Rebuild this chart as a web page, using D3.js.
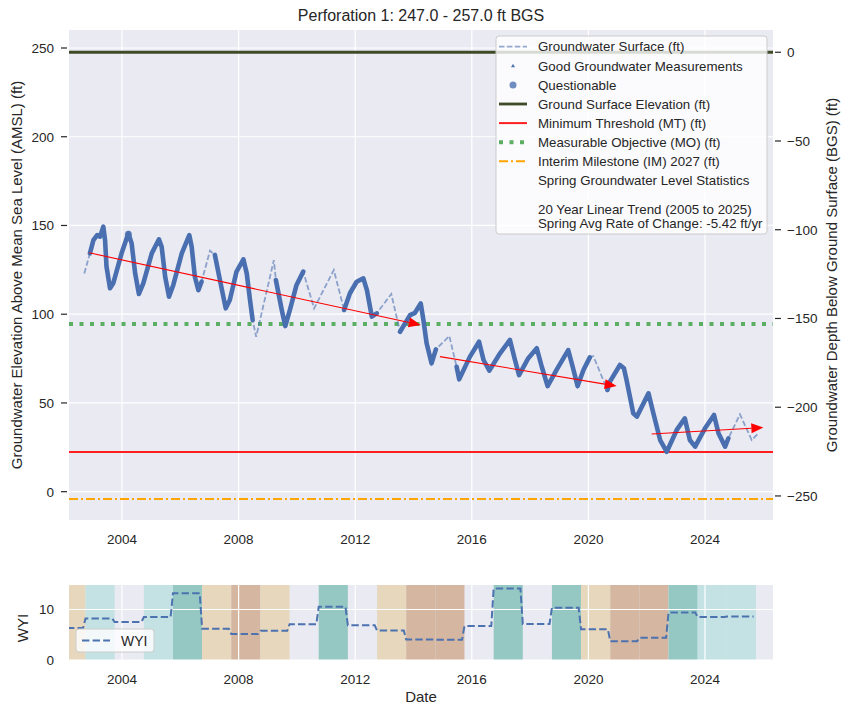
<!DOCTYPE html>
<html lang="en">
<head>
<meta charset="UTF-8">
<title>Perforation 1: 247.0 - 257.0 ft BGS</title>
<script src="https://cdn.jsdelivr.net/npm/d3@7"></script>
<style>
  * { margin: 0; padding: 0; }
  body { background: #fff; width: 843px; height: 704px; overflow: hidden; }
  svg { display: block; font-family: "Liberation Sans", Arial, sans-serif; }
  text { fill: #262626; }
</style>
</head>
<body>
<svg width="843" height="704"></svg>
<script>
// ---- data ----
const groundSurface = 247.6;      // ft AMSL
const minThreshold = 22.4;
const measObjective = 94.5;
const interimMilestone = -4.1;

// groundwater elevation turning points; measured = dense good measurements exist
const gwDates = [
  '2002-09-16','2002-11-25','2003-01-08','2003-02-24','2003-04-01','2003-05-12','2003-06-03','2003-06-21','2003-08-04','2003-09-13',
  '2003-12-27','2004-03-21','2004-05-01','2004-06-14','2004-07-31','2004-09-24','2005-01-08','2005-04-08','2005-05-12','2005-06-25',
  '2005-08-12','2005-10-05','2006-01-19','2006-04-23','2006-05-23','2006-07-02','2006-08-15','2006-09-24','2007-01-08','2007-03-10',
  '2007-05-12','2007-07-24','2007-09-13','2007-12-06','2008-03-01','2008-04-12','2008-05-23','2008-06-25','2008-08-08','2009-03-18',
  '2009-04-12','2009-06-25','2009-08-08','2009-10-05','2009-12-27','2010-03-21','2010-08-04','2011-04-08','2011-08-15','2011-10-27',
  '2012-01-19','2012-04-12','2012-05-27','2012-07-27','2012-09-27','2013-03-28','2013-07-16','2013-11-18','2014-01-19','2014-04-01',
  '2014-05-05','2014-06-14','2014-08-15','2014-10-08','2015-03-25','2015-06-25','2015-07-27','2015-12-09','2016-04-01','2016-05-27',
  '2016-08-08','2016-12-20','2017-04-23','2017-06-25','2017-08-15','2017-12-09','2018-03-25','2018-05-27','2018-08-08','2018-11-28',
  '2019-04-23','2019-06-18','2019-08-19','2019-10-31','2020-01-19','2020-03-03','2020-08-26','2020-09-27','2021-01-30','2021-03-21',
  '2021-04-23','2021-07-16','2021-08-30','2022-01-23','2022-03-25','2022-06-18','2022-09-09','2023-01-12','2023-04-23','2023-06-25',
  '2023-08-30','2024-01-01','2024-04-23','2024-06-18','2024-09-09','2024-10-20','2025-03-14','2025-08-08','2025-10-31'
];
const gwLevels = [
  123.0,134.3,141.7,144.6,143.7,149.3,141.7,126.8,114.6,117.4,
  134.3,145.6,139.9,123.0,111.4,117.4,134.3,142.2,138.0,121.1,
  109.9,116.5,134.3,144.6,138.0,121.1,113.6,118.3,135.8,133.4,
  119.3,103.3,108.0,124.0,130.9,123.0,108.0,96.7,87.3,130.5,
  119.3,102.4,93.3,102.4,116.5,124.0,103.3,124.9,102.4,111.8,
  118.3,120.2,113.6,98.6,100.5,111.4,90.1,99.5,100.8,106.1,
  96.7,83.6,72.3,80.2,87.7,70.4,63.3,76.1,84.5,74.2,
  68.2,78.0,85.5,74.2,65.7,75.2,80.8,70.4,59.5,68.6,
  79.8,70.4,59.5,68.6,75.7,76.4,57.3,62.0,71.4,69.5,
  62.9,44.2,42.3,55.4,44.2,29.1,22.5,34.8,41.3,29.1,
  25.4,35.7,43.2,32.9,25.4,30.1,43.6,29.1,32.9
];
const gwMeasured = [
  0,1,1,1,1,1,1,1,1,1,
  1,1,1,1,1,1,1,1,1,1,
  1,1,1,1,1,1,1,1,0,1,
  1,1,1,1,1,1,1,1,0,0,
  1,1,1,1,1,1,0,0,1,1,
  1,1,1,1,1,0,1,1,1,1,
  1,1,1,1,0,1,1,1,1,1,
  1,1,1,1,1,1,1,1,1,1,
  1,1,1,1,1,0,1,1,1,1,
  1,1,1,1,1,1,1,1,1,1,
  1,1,1,1,1,1,0,0,0
];

const questionableDates = ['2004-03-21'];
const questionableLevels = [145.0];

// spring trend arrows (start -> end)
const trendStartDates = ['2002-11-18', '2014-11-28', '2022-03-03'];
const trendStartLevels = [134.6, 76.1, 32.5];
const trendEndDates = ['2014-04-01', '2020-12-20', '2026-01-01'];
const trendEndLevels = [93.9, 59.5, 36.1];

// water year index and type (Oct 1 - Sep 30)
const waterYears = [2002,2003,2004,2005,2006,2007,2008,2009,2010,2011,2012,2013,
                    2014,2015,2016,2017,2018,2019,2020,2021,2022,2023,2024,2025];
const wyiValues  = [6.35,8.21,7.51,8.49,13.2,6.19,5.16,5.78,7.08,10.54,6.89,5.83,
                    4.07,4.0,6.71,14.14,7.14,10.34,6.1,3.7,4.4,9.4,8.5,8.6];
const wyTypes    = ['D','AN','BN','AN','W','D','C','D','BN','W','BN','D',
                    'C','C','BN','W','BN','W','D','C','C','W','AN','AN'];

const tickYears = [2004, 2008, 2012, 2016, 2020, 2024];
const amslTicks = [0, 50, 100, 150, 200, 250];
const bgsTicks = [0, -50, -100, -150, -200, -250];
const wyiTicks = [0, 10];

const legendLabels = [
  'Groundwater Surface (ft)',
  'Good Groundwater Measurements',
  'Questionable',
  'Ground Surface Elevation (ft)',
  'Minimum Threshold (MT) (ft)',
  'Measurable Objective (MO) (ft)',
  'Interim Milestone (IM) 2027 (ft)',
  'Spring Groundwater Level Statistics',
  '',
  '20 Year Linear Trend (2005 to 2025)',
  'Spring Avg Rate of Change: -5.42 ft/yr'
];

// ---- layout ----
const parse = d3.timeParse('%Y-%m-%d');
const main = { left: 69, right: 773, top: 30, bottom: 520 };
const sub = { left: 69, right: 773, top: 585, bottom: 660 };
const blue = '#4c72b0';
const bg = '#eaeaf2';
const wyColors = { D: '#e7d7bd', C: '#d5b6a1', W: '#95c8c3', AN: '#c4e2e3', BN: 'none' };

const svg = d3.select('svg');

const x = d3.scaleTime()
  .domain([parse('2002-03-08'), parse('2026-05-02')])
  .range([main.left, main.right]);
const y = d3.scaleLinear().domain([-15.95, 260.14]).range([main.bottom, main.top]);
const yR = d3.scaleLinear()
  .domain([-15.95 - groundSurface, 260.14 - groundSurface])
  .range([main.bottom, main.top]);
const yW = d3.scaleLinear().domain([0, 14.85]).range([sub.bottom, sub.top]);

const defs = svg.append('defs');
defs.append('clipPath').attr('id', 'clipMain').append('rect')
  .attr('x', main.left).attr('y', main.top)
  .attr('width', main.right - main.left).attr('height', main.bottom - main.top);
defs.append('clipPath').attr('id', 'clipSub').append('rect')
  .attr('x', sub.left).attr('y', sub.top)
  .attr('width', sub.right - sub.left).attr('height', sub.bottom - sub.top);

// ---- main panel ----
svg.append('rect').attr('x', main.left).attr('y', main.top)
  .attr('width', main.right - main.left).attr('height', main.bottom - main.top)
  .attr('fill', bg);

const gGrid = svg.append('g').attr('stroke', '#fff').attr('stroke-width', 1.2);
tickYears.forEach(t => {
  const xx = x(new Date(t, 0, 1));
  gGrid.append('line').attr('x1', xx).attr('x2', xx).attr('y1', main.top).attr('y2', main.bottom);
});
amslTicks.forEach(t => {
  gGrid.append('line').attr('x1', main.left).attr('x2', main.right).attr('y1', y(t)).attr('y2', y(t));
});

const plot = svg.append('g').attr('clip-path', 'url(#clipMain)');

function hline(v, color, width, dash) {
  plot.append('line')
    .attr('x1', main.left).attr('x2', main.right)
    .attr('y1', y(v)).attr('y2', y(v))
    .attr('stroke', color).attr('stroke-width', width)
    .attr('stroke-dasharray', dash || null);
}
hline(groundSurface, '#3f4a27', 2.8);
hline(minThreshold, '#ff1f1f', 2);
hline(measObjective, '#5cae63', 4, '4,6.5');
hline(interimMilestone, '#ffa500', 2, '9,3,2,3');

const gw = gwDates.map((d, i) => ({ date: parse(d), v: gwLevels[i], m: gwMeasured[i] === 1 }));

// dashed groundwater surface (whole record)
plot.append('path')
  .attr('d', d3.line().x(d => x(d.date)).y(d => y(d.v))(gw))
  .attr('fill', 'none').attr('stroke', blue).attr('stroke-opacity', 0.6)
  .attr('stroke-width', 1.8).attr('stroke-dasharray', '5.5,2.4');

// dense good measurements
plot.append('path')
  .attr('d', d3.line().defined(d => d.m).x(d => x(d.date)).y(d => y(d.v))(gw))
  .attr('fill', 'none').attr('stroke', '#4a6fb0')
  .attr('stroke-width', 4.6).attr('stroke-linejoin', 'round').attr('stroke-linecap', 'round');

plot.selectAll('circle.q')
  .data(questionableDates.map((d, i) => ({ date: parse(d), v: questionableLevels[i] })))
  .enter().append('circle')
  .attr('cx', d => x(d.date)).attr('cy', d => y(d.v)).attr('r', 3.5)
  .attr('fill', blue).attr('fill-opacity', 0.8);

// trend arrows
trendStartDates.forEach((sd, i) => {
  const x0 = x(parse(sd)), y0 = y(trendStartLevels[i]);
  const x1 = x(parse(trendEndDates[i])), y1 = y(trendEndLevels[i]);
  const len = Math.hypot(x1 - x0, y1 - y0);
  const ux = (x1 - x0) / len, uy = (y1 - y0) / len;
  const hl = 12, hw = 5;
  const bx = x1 - ux * hl, by = y1 - uy * hl;
  plot.append('line').attr('x1', x0).attr('y1', y0).attr('x2', bx).attr('y2', by)
    .attr('stroke', '#ff0000').attr('stroke-width', 1.1);
  plot.append('path')
    .attr('d', `M${x1},${y1}L${bx - uy * hw},${by + ux * hw}L${bx + uy * hw},${by - ux * hw}Z`)
    .attr('fill', '#ff0000');
});

// axes: left ticks + labels
const axL = svg.append('g');
amslTicks.forEach(t => {
  axL.append('line').attr('x1', 61).attr('x2', 67).attr('y1', y(t)).attr('y2', y(t))
    .attr('stroke', '#262626').attr('stroke-width', 1.2);
  axL.append('text').attr('x', 54).attr('y', y(t)).attr('dy', '0.36em')
    .attr('text-anchor', 'end').style('font-size', '13.5px').text(t);
});
const axR = svg.append('g');
bgsTicks.forEach(t => {
  axR.append('line').attr('x1', 775).attr('x2', 781).attr('y1', yR(t)).attr('y2', yR(t))
    .attr('stroke', '#262626').attr('stroke-width', 1.2);
  axR.append('text').attr('x', 787).attr('y', yR(t)).attr('dy', '0.36em')
    .style('font-size', '13.5px').text(d3.format('')(t));
});
tickYears.forEach(t => {
  svg.append('text').attr('x', x(new Date(t, 0, 1))).attr('y', 544)
    .attr('text-anchor', 'middle').style('font-size', '13.5px').text(t);
});

svg.append('text').attr('x', (main.left + main.right) / 2).attr('y', 21)
  .attr('text-anchor', 'middle').style('font-size', '16px')
  .text('Perforation 1: 247.0 - 257.0 ft BGS');
svg.append('text').attr('transform', 'translate(22,275) rotate(-90)')
  .attr('text-anchor', 'middle').style('font-size', '15px')
  .text('Groundwater Elevation Above Mean Sea Level (AMSL) (ft)');
svg.append('text').attr('transform', 'translate(837,275) rotate(-90)')
  .attr('text-anchor', 'middle').style('font-size', '15px')
  .text('Groundwater Depth Below Ground Surface (BGS) (ft)');

// legend
const lg = svg.append('g');
lg.append('rect').attr('x', 496).attr('y', 36).attr('width', 271).attr('height', 198)
  .attr('rx', 3).attr('fill', '#fff').attr('fill-opacity', 0.8)
  .attr('stroke', '#cccccc').attr('stroke-width', 1);
const rowY = i => i < 8 ? 46.7 + i * 19.1 : 180.4 + (i - 7) * 14.2;
legendLabels.forEach((lab, i) => {
  const cy = rowY(i);
  if (lab) lg.append('text').attr('x', 538).attr('y', cy).attr('dy', '0.36em')
    .style('font-size', '13.3px').text(lab);
  const seg = (color, w, dash, op) => lg.append('line')
    .attr('x1', 499).attr('x2', 527).attr('y1', cy).attr('y2', cy)
    .attr('stroke', color).attr('stroke-width', w)
    .attr('stroke-dasharray', dash || null).attr('stroke-opacity', op || 1);
  if (i === 0) seg(blue, 1.8, '5.5,2.4', 0.6);
  if (i === 1) lg.append('path').attr('d', `M513,${cy - 2}L515,${cy + 1.5}L511,${cy + 1.5}Z`).attr('fill', blue);
  if (i === 2) lg.append('circle').attr('cx', 513).attr('cy', cy).attr('r', 3.5).attr('fill', blue).attr('fill-opacity', 0.8);
  if (i === 3) seg('#3f4a27', 2.8);
  if (i === 4) seg('#ff1f1f', 2);
  if (i === 5) seg('#5cae63', 4, '4,6.5');
  if (i === 6) seg('#ffa500', 2, '9,3,2,3');
});

// ---- WYI panel ----
svg.append('rect').attr('x', sub.left).attr('y', sub.top)
  .attr('width', sub.right - sub.left).attr('height', sub.bottom - sub.top)
  .attr('fill', bg);
const wg = svg.append('g').attr('clip-path', 'url(#clipSub)');
waterYears.forEach((wy, i) => {
  if (wyColors[wyTypes[i]] === 'none') return;
  const x0 = x(new Date(wy - 1, 9, 1)), x1 = x(new Date(wy, 9, 1));
  wg.append('rect').attr('x', x0).attr('y', sub.top).attr('width', x1 - x0)
    .attr('height', sub.bottom - sub.top).attr('fill', wyColors[wyTypes[i]]);
});
tickYears.forEach(t => {
  const xx = x(new Date(t, 0, 1));
  wg.append('line').attr('x1', xx).attr('x2', xx).attr('y1', sub.top).attr('y2', sub.bottom)
    .attr('stroke', '#fff').attr('stroke-width', 1.2);
});
wyiTicks.forEach(t => {
  wg.append('line').attr('x1', sub.left).attr('x2', sub.right).attr('y1', yW(t)).attr('y2', yW(t))
    .attr('stroke', '#fff').attr('stroke-width', 1.2);
  svg.append('text').attr('x', 54).attr('y', yW(t)).attr('dy', '0.36em')
    .attr('text-anchor', 'end').style('font-size', '13.5px').text(t);
});
const wyiPts = [];
waterYears.forEach((wy, i) => {
  wyiPts.push({ date: new Date(wy - 1, 9, 1), v: wyiValues[i] });
  wyiPts.push({ date: new Date(wy, 8, 1), v: wyiValues[i] });
});
wg.append('path')
  .attr('d', d3.line().x(d => x(d.date)).y(d => yW(d.v))(wyiPts))
  .attr('fill', 'none').attr('stroke', blue).attr('stroke-width', 2)
  .attr('stroke-dasharray', '7.4,3.2');

tickYears.forEach(t => {
  svg.append('text').attr('x', x(new Date(t, 0, 1))).attr('y', 684)
    .attr('text-anchor', 'middle').style('font-size', '13.5px').text(t);
});
svg.append('text').attr('x', (sub.left + sub.right) / 2).attr('y', 702)
  .attr('text-anchor', 'middle').style('font-size', '15px').text('Date');
svg.append('text').attr('transform', 'translate(28,628) rotate(-90)')
  .attr('text-anchor', 'middle').style('font-size', '15px').text('WYI');

const wl = svg.append('g');
wl.append('rect').attr('x', 76).attr('y', 629).attr('width', 78).attr('height', 23)
  .attr('rx', 3).attr('fill', '#fff').attr('fill-opacity', 0.8)
  .attr('stroke', '#cccccc').attr('stroke-width', 1);
wl.append('line').attr('x1', 82).attr('x2', 110).attr('y1', 640.5).attr('y2', 640.5)
  .attr('stroke', blue).attr('stroke-width', 2).attr('stroke-dasharray', '7.4,3.2');
wl.append('text').attr('x', 121).attr('y', 640.5).attr('dy', '0.36em')
  .style('font-size', '14px').text('WYI');
</script>
</body>
</html>
